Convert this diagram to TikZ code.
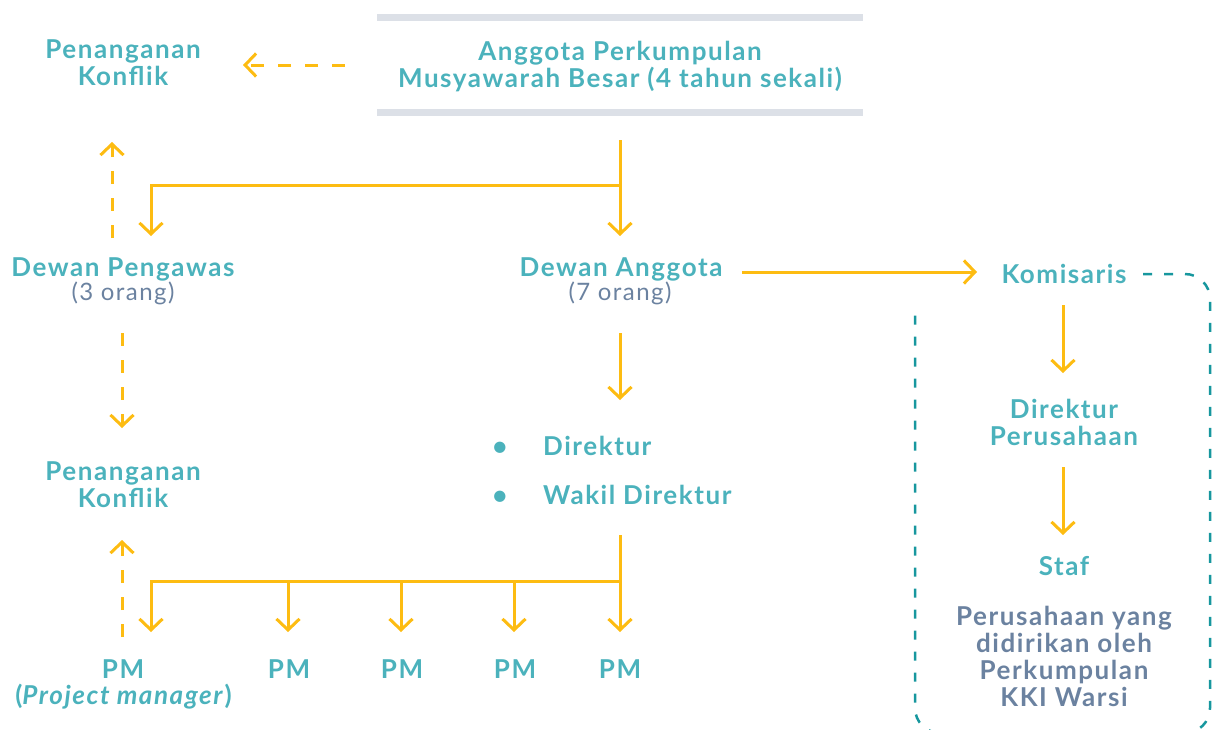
\documentclass[tikz,border=0pt]{standalone}
\usepackage{fontspec}
\setmainfont{Lato}[LetterSpace=6]
\usetikzlibrary{arrows.meta}
\definecolor{ttxt}{HTML}{4BB2BC}
\definecolor{slate}{HTML}{6B82A0}
\definecolor{gold}{HTML}{FDBC12}
\definecolor{barc}{HTML}{DCE0E7}
\definecolor{dteal}{HTML}{17979E}
\begin{document}
\begin{tikzpicture}[x=1pt,y=-1pt,
  lbl/.style={font=\bfseries\fontsize{26}{27}\selectfont, text=ttxt, align=center, inner sep=0pt},
  org/.style={lbl, text=slate},
  cnt/.style={font=\fontsize{24}{26}\selectfont, text=slate, inner sep=0pt},
  arr/.style={draw=gold, line width=3pt, -{Straight Barb[length=11pt,width=23pt]}},
  dsh/.style={arr, dash pattern=on 13pt off 14pt},
  barline/.style={draw=barc, line width=6.5pt},
  frame/.style={draw=dteal, line width=2.5pt, dash pattern=on 9pt off 12pt}
]
\useasboundingbox (0,0) rectangle (1212,729);
\clip (0,0) rectangle (1212,729);

% general assembly, framed by two bars
\coordinate (barTL) at (377,17.5);  \coordinate (barTR) at (863,17.5);
\coordinate (barBL) at (377,112.5); \coordinate (barBR) at (863,112.5);
\draw[barline] (barTL) -- (barTR);
\draw[barline] (barBL) -- (barBR);
\node[lbl, anchor=north] (mubes) at (620,41) {Anggota Perkumpulan\\Musyawarah Besar (4 tahun sekali)};

% conflict handling (top)
\node[lbl, anchor=north] (pk1) at (123,39) {Penanganan\\Konflik};

% boards
\node[lbl, anchor=base] (dp) at (123,276) {Dewan Pengawas};
\node[cnt, anchor=base] (dp3) at (123,300) {(3 orang)};
\node[lbl, anchor=base] (da) at (621,276) {Dewan Anggota};
\node[cnt, anchor=base] (da7) at (620,300) {(7 orang)};

% directors
\node[lbl, anchor=base] (b1) at (500,455) {•};
\node[lbl, anchor=base west] (dir) at (543,455) {Direktur};
\node[lbl, anchor=base] (b2) at (500,504) {•};
\node[lbl, anchor=base west] (wdir) at (543,504) {Wakil Direktur};

% conflict handling (bottom)
\node[lbl, anchor=north] (pk2) at (123,461) {Penanganan\\Konflik};

% project managers
\node[lbl, anchor=base] (pm1) at (123,678) {PM};
\node[lbl, anchor=base] (pmx) at (123.5,704) {(\textit{Project manager})};
\node[lbl, anchor=base] (pm2) at (289,678) {PM};
\node[lbl, anchor=base] (pm3) at (402,678) {PM};
\node[lbl, anchor=base] (pm4) at (515,678) {PM};
\node[lbl, anchor=base] (pm5) at (620,678) {PM};

% company
\node[lbl, anchor=base] (kom) at (1064,283) {Komisaris};
\node[lbl, anchor=north] (dirp) at (1064,399) {Direktur\\Perusahaan};
\node[lbl, anchor=base] (staf) at (1064,575) {Staf};
\node[org, anchor=north] (pt) at (1064,606) {Perusahaan yang\\didirikan oleh\\Perkumpulan\\KKI Warsi};

% company frame (open at the top left, runs past the lower edge)
\draw[frame] (1143,274) -- (1185,274) arc[start angle=-90,end angle=0,radius=25]
  -- (1210,708) arc[start angle=0,end angle=90,radius=25]
  -- (940,733) arc[start angle=90,end angle=180,radius=25] -- (915,306);

% connector end points
\coordinate (mubesL) at (345,65);   \coordinate (pk1R) at (243,65);
\coordinate (mubesS) at (620,140);  \coordinate (splitA) at (620,185);
\coordinate (daN) at (620,236);     \coordinate (dpN) at (151,236);
\coordinate (dpUp) at (112,238);    \coordinate (pk1S) at (112,142);
\coordinate (dpS) at (122,333);     \coordinate (pk2N) at (122,428);
\coordinate (daS) at (620,333);     \coordinate (dirN) at (620,400);
\coordinate (daE) at (742,272);     \coordinate (komW) at (977,272);
\coordinate (komS) at (1063,305);   \coordinate (dirpN) at (1063,373);
\coordinate (dirpS) at (1063,467);  \coordinate (stafN) at (1063,535);
\coordinate (dirS) at (620,535);    \coordinate (splitB) at (620,581);
\coordinate (pmUp) at (122,637);    \coordinate (pk2S) at (122,540);

% connectors
\draw[dsh] (mubesL) -- (pk1R);
\draw[arr] (mubesS) -- (daN);
\draw[arr] (splitA) -| (dpN);
\draw[dsh] (dpUp) -- (pk1S);
\draw[dsh] (dpS) -- (pk2N);
\draw[arr] (daS) -- (dirN);
\draw[arr] (daE) -- (komW);
\draw[arr] (komS) -- (dirpN);
\draw[arr] (dirpS) -- (stafN);
\draw[arr] (dirS) -- (620,632);
\draw[arr] (splitB) -| (151,632);
\foreach \x in {288,401,514}{
  \draw[arr] (\x,581) -- (\x,632);
}
\draw[dsh] (pmUp) -- (pk2S);
\end{tikzpicture}
\end{document}
